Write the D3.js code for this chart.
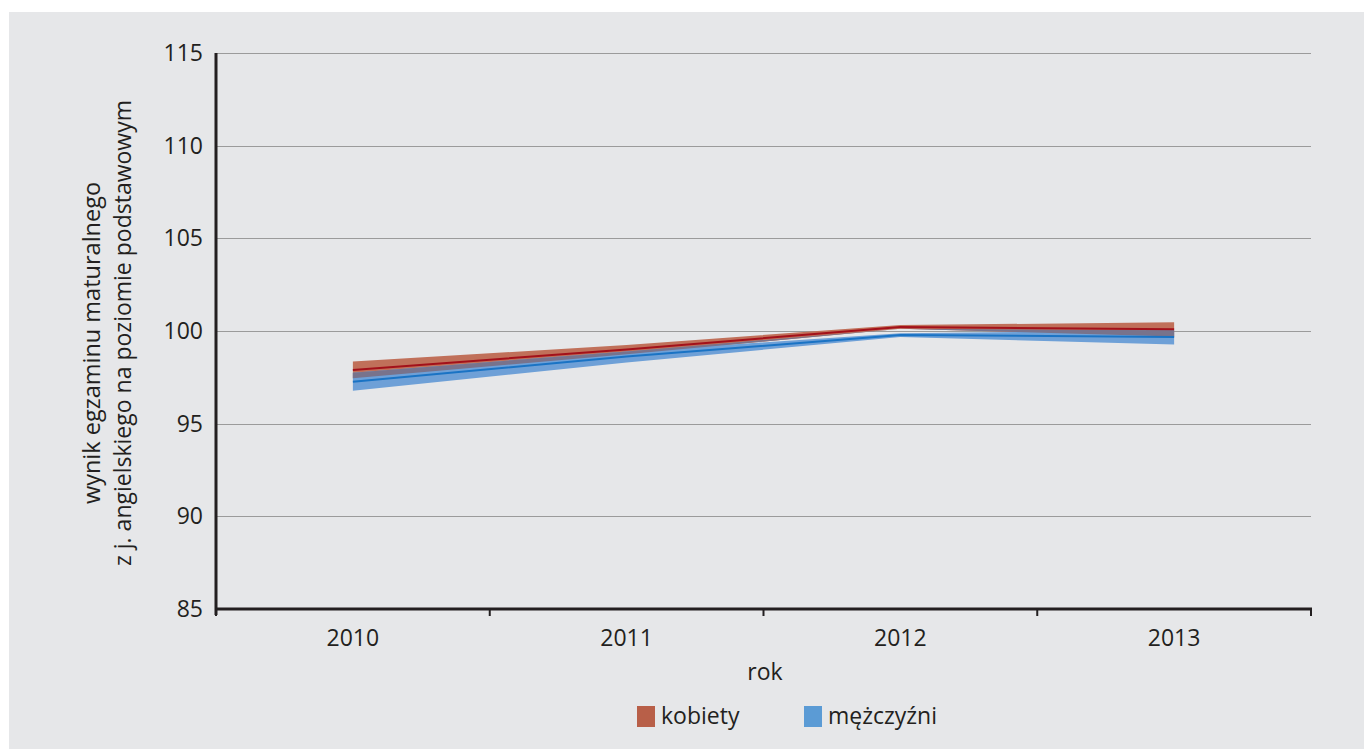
<!DOCTYPE html>
<html><head><meta charset="utf-8">
<script src="https://cdn.jsdelivr.net/npm/d3@7"></script>
<style>
html,body{margin:0;padding:0;background:#fff;}
svg{display:block;}
text{font-family:"Open Sans","Noto Sans",sans-serif;fill:#231f20;}
</style></head><body>
<script>
const years = ["2010","2011","2012","2013"];
const kobiety = [97.9, 99.0, 100.22, 100.09];
const kobietyLow = [97.45, 98.74, 100.12, 99.71];
const kobietyHigh = [98.35, 99.25, 100.32, 100.47];
const mezczyzni = [97.26, 98.62, 99.78, 99.68];
const mezczyzniLow = [96.78, 98.3, 99.68, 99.27];
const mezczyzniHigh = [97.75, 98.9, 99.88, 100.04];
const yTicks = [85, 90, 95, 100, 105, 110, 115];
const seriesNames = ["kobiety", "mężczyźni"];

const W = 1364, H = 749;
const svg = d3.select("body").append("svg").attr("width", W).attr("height", H);
svg.append("rect").attr("x", 9).attr("y", 12).attr("width", W - 9).attr("height", H - 12).attr("fill", "#e6e7e9");

const x = d3.scaleBand().domain(years).range([216, 1311]).padding(0);
const y = d3.scaleLinear().domain([85, 115]).range([609, 53]);
const cx = d => x(d) + x.bandwidth() / 2;

// gridlines
svg.append("g").selectAll("line").data(yTicks.filter(t => t > 85)).join("line")
  .attr("x1", 216).attr("x2", 1311)
  .attr("y1", d => Math.round(y(d)) + 0.5).attr("y2", d => Math.round(y(d)) + 0.5)
  .attr("stroke", "#9b9b9b").attr("stroke-width", 1);

const area = (lo, hi) => d3.area().x((d, i) => cx(years[i])).y0((d, i) => y(lo[i])).y1((d, i) => y(hi[i]))(years);
const line = vals => d3.line().x((d, i) => cx(years[i])).y((d, i) => y(vals[i]))(years);

const ovLow = years.map((d, i) => Math.max(kobietyLow[i], mezczyzniLow[i]));
const ovHigh = years.map((d, i) => Math.max(ovLow[i], Math.min(kobietyHigh[i], mezczyzniHigh[i])));

svg.append("path").attr("d", area(kobietyLow, kobietyHigh)).attr("fill", "#c0705a");
svg.append("path").attr("d", area(mezczyzniLow, mezczyzniHigh)).attr("fill", "#6ea0d7");
svg.append("path").attr("d", area(ovLow, ovHigh)).attr("fill", "#78738c");
svg.append("path").attr("d", line(kobiety)).attr("fill", "none").attr("stroke", "#a3111a").attr("stroke-width", 2);
svg.append("path").attr("d", line(mezczyzni)).attr("fill", "none").attr("stroke", "#1a73c4").attr("stroke-width", 2);

// y axis
const yAxis = d3.axisLeft(y).tickValues(yTicks).tickSize(0).tickPadding(13).tickFormat(d3.format("d"));
const gy = svg.append("g").attr("transform", "translate(216,0)").call(yAxis);
gy.select(".domain").attr("stroke", "#231f20").attr("stroke-width", 3).attr("d", "M0,53V615");
gy.selectAll("text").attr("font-size", 23).attr("font-family", "Open Sans").attr("fill", "#231f20");

// x axis
const gx = svg.append("g").attr("transform", "translate(0,609)");
gx.append("line").attr("x1", 216).attr("x2", 1312).attr("y1", 0).attr("y2", 0).attr("stroke", "#231f20").attr("stroke-width", 3);
const bounds = years.map(d => x(d)).concat([x(years[years.length - 1]) + x.bandwidth()]);
gx.selectAll("line.tk").data(bounds).join("line").attr("class", "tk")
  .attr("x1", d => d).attr("x2", d => d).attr("y1", 0).attr("y2", 7)
  .attr("stroke", "#231f20").attr("stroke-width", 2);
gx.selectAll("text").data(years).join("text")
  .attr("x", d => cx(d)).attr("y", 37).attr("text-anchor", "middle").attr("font-size", 23).text(d => d);

svg.append("text").attr("x", 765).attr("y", 680).attr("text-anchor", "middle").attr("font-size", 23).text("rok");

// y title
svg.append("text").attr("transform", "translate(100,343) rotate(-90)").attr("font-size", 23.5)
  .attr("text-anchor", "middle").text("wynik egzaminu maturalnego");
svg.append("text").attr("transform", "translate(131,333) rotate(-90)").attr("font-size", 23)
  .attr("text-anchor", "middle").text("z j. angielskiego na poziomie podstawowym");

// legend
const legColors = ["#b85f48", "#5b9bd5"];
const legX = [637, 804];
const lg = svg.append("g").selectAll("g").data(seriesNames).join("g")
  .attr("transform", (d, i) => `translate(${legX[i]},706)`);
lg.append("rect").attr("width", 18).attr("height", 21).attr("fill", (d, i) => legColors[i]);
lg.append("text").attr("x", 24).attr("y", 18).attr("font-size", 23).text(d => d);
</script>
</body></html>
